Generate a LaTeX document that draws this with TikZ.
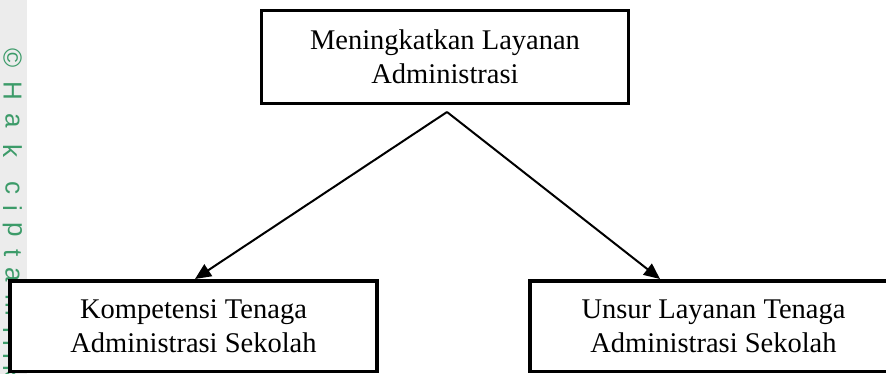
\documentclass[tikz,border=0pt]{standalone}
\usepackage{fontspec}
\setmainfont{Liberation Serif}
\newfontfamily\wmfont{Liberation Sans}
\usetikzlibrary{arrows.meta,calc}
\definecolor{wmgreen}{RGB}{60,155,105}
\begin{document}
\begin{tikzpicture}[x=1pt,y=-1pt,
  box/.style={draw=black,line width=3.5pt,fill=white,minimum width=367pt,align=center,
    font=\fontsize{28.5}{34}\selectfont,inner sep=0pt},
  arr/.style={line width=2pt,-{Triangle[length=16pt,width=14pt]}},
  wm/.style={text=wmgreen,font=\wmfont\fontsize{26}{26}\selectfont,rotate=-90,inner sep=0pt}]
\useasboundingbox (0,0) rectangle (886,374);
\clip (0,0) rectangle (886,374);
\fill[white] (0,0) rectangle (886,374);
\fill[gray!15] (0,0) rectangle (27,374);
% watermark
\foreach \c/\yy in {\textcopyright/58,H/91,a/121,k/151,c/188,i/208,p/230,t/253,a/275,m/305,i/330,l/343,i/356,k/372}
  \node[wm] at (12.5,\yy) {\c};
% boxes
\node[box,minimum height=93pt] (top) at (445,57) {Meningkatkan Layanan\\Administrasi};
\node[box,minimum height=90.5pt] (bl) at (193.5,326) {Kompetensi Tenaga\\Administrasi Sekolah};
\node[box,minimum height=90.5pt] (br) at (713.5,326) {Unsur Layanan Tenaga\\Administrasi Sekolah};
% connectors
\coordinate (apex) at (447,112);
\draw[arr] (apex) -- ([xshift=1.5pt]bl.north);
\draw[arr] (apex) -- ([xshift=-53.5pt]br.north);
\end{tikzpicture}
\end{document}
